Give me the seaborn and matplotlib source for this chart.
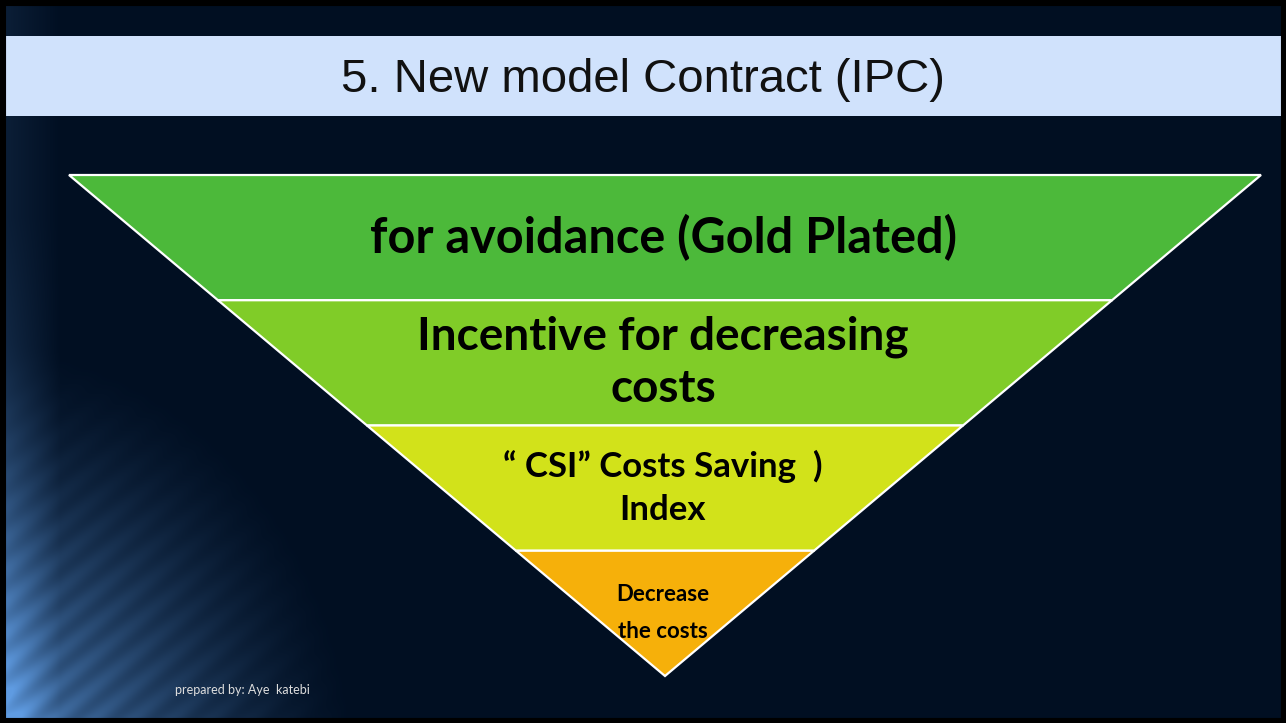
import numpy as np
import matplotlib.pyplot as plt
import seaborn as sns
from matplotlib.patches import Rectangle

# funnel levels, top to bottom
levels = ['for avoidance (Gold Plated)',
          'Incentive for decreasing\ncosts',
          '\u201c CSI\u201d Costs Saving  )\nIndex',
          'Decrease\nthe costs']
level_colors = ['#4CB93A', '#80CC28', '#D2E21A', '#F6B00A']
level_sizes = [35, 33, 25, 16]
level_spacing = [1.0, 1.3, 1.4, 1.9]
title = '5. New model Contract (IPC)'
footer = 'prepared by: Aye  katebi'

sns.set_theme(style='white')
plt.rcParams['font.family'] = ['Lato', 'DejaVu Sans']

W, H = 1286, 723
fig = plt.figure(figsize=(W / 100, H / 100), dpi=100)
ax = fig.add_axes([0, 0, 1, 1])
ax.set_xlim(0, W)
ax.set_ylim(H, 0)
ax.axis('off')

# background: dark navy with a blue glow in the lower left
yy, xx = np.mgrid[0:H, 0:W]
base = np.array([1, 15, 34]) / 255
glow_col = np.array([95, 155, 225]) / 255
d = np.sqrt(((xx + 20) / 380) ** 2 + ((yy - 780) / 440) ** 2)
glow = np.clip(1 - d, 0, 1) ** 1.4
streak = 0.5 + 0.5 * np.sin((xx * 0.8 + yy) / 5.0)
glow = glow * (0.8 + 0.2 * streak)
edge = np.clip(1 - xx / 60, 0, 1) * 0.4 * np.clip(yy / H, 0.3, 1)
g = np.clip(glow + edge, 0, 1)[..., None]
img = base * (1 - g) + glow_col * g
ax.imshow(img, extent=(0, W, H, 0), zorder=0, interpolation='bilinear')

# frame and title band
ax.add_patch(Rectangle((0, 0), W, H, fill=False, ec='black', lw=8, zorder=5))
ax.add_patch(Rectangle((5, 36), W - 10, 80, fc='#D0E2FC', ec='none', zorder=2))
ax.text(W / 2, 80, title, ha='center', va='center', fontsize=34,
        family='Liberation Sans', color='#111111', zorder=3)

# funnel geometry
cx, top, apex = 665, 175, 676
half_top = 596
band_h = (apex - top) / len(levels)


def half_width(y):
    return half_top * (apex - y) / (apex - top)


text_y = [238, 363, 488, 613]
for i, (lab, col, fs, ls) in enumerate(zip(levels, level_colors, level_sizes, level_spacing)):
    y0 = top + i * band_h
    y1 = y0 + band_h
    w0, w1 = half_width(y0), half_width(y1)
    xs = [cx - w0, cx + w0, cx + w1, cx - w1]
    ys = [y0, y0, y1, y1]
    ax.fill(xs, ys, color=col, ec='white', lw=1.6, zorder=3)
    ax.text(cx - 2, text_y[i], lab, ha='center', va='center', fontsize=fs,
            fontweight='bold', color='black', linespacing=ls, zorder=4)

ax.text(175, 690, footer, ha='left', va='center', fontsize=9,
        color='#DDDDDD', zorder=4)

fig.savefig('out.png', dpi=100)
